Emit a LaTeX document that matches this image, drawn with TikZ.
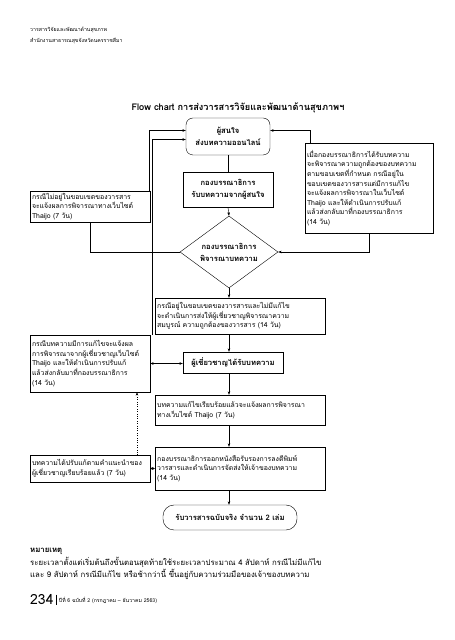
\documentclass[tikz,border=0pt]{standalone}
\usepackage{fontspec}
\newfontfamily\thaifont[Script=Thai]{Loma}
\usetikzlibrary{shapes.geometric, positioning, arrows.meta}

\tikzset{
  txtbox/.style={draw, thin, align=left, inner sep=2pt, text width=#1,
    font=\thaifont\fontsize{6.9}{9.6}\selectfont},
  headbox/.style={draw, thin, align=center, inner sep=2pt,
    font=\thaifont\bfseries\fontsize{7.6}{12}\selectfont},
  flow/.style={thin, -{Stealth[length=3.5pt, width=2.6pt]}},
  twoway/.style={thin, {Stealth[length=3.5pt, width=2.6pt]}-{Stealth[length=3.5pt, width=2.6pt]}},
  plain/.style={anchor=west, inner sep=0pt, font=\thaifont\fontsize{5.2}{8}\selectfont},
}

\begin{document}
\begin{tikzpicture}[x=1pt, y=1pt]
\useasboundingbox (0,0) rectangle (455,640);
\fill[white] (0,0) rectangle (455,640);

% header
\node[plain] (head1) at (30,610) {วารสารวิจัยและพัฒนาด้านสุขภาพ};
\node[plain] (head2) at (30,599) {สำนักงานสาธารณสุขจังหวัดนครราชสีมา};
\node[font=\thaifont\bfseries\fontsize{9.2}{11}\selectfont] (title) at (238,532) {Flow chart การส่งวารสารวิจัยและพัฒนาด้านสุขภาพฯ};

% centre column
\node[headbox, rounded corners=7pt, minimum width=84pt, minimum height=37pt] (author) at (228,503.5) {ผู้สนใจ\\ส่งบทความออนไลน์};
\node[headbox, minimum width=90pt, minimum height=35pt] (receive) at (228,450.5) {กองบรรณาธิการ\\รับบทความจากผู้สนใจ};
\node[headbox, diamond, aspect=1.36, minimum width=98pt, minimum height=72pt, inner sep=0pt] (review) at (229,388) {กองบรรณาธิการ\\พิจารณาบทความ};
\node[txtbox=166pt, anchor=west, minimum height=36pt] (inscope) at (155,324) {กรณีอยู่ในขอบเขตของวารสารและไม่มีแก้ไข\\จะดำเนินการส่งให้ผู้เชี่ยวชาญพิจารณาความ\\สมบูรณ์ ความถูกต้องของวารสาร (14 วัน)};
\node[headbox, minimum width=100pt, minimum height=21pt] (expert) at (233,277.5) {ผู้เชี่ยวชาญได้รับบทความ};
\node[txtbox=166pt, anchor=west, minimum height=30pt] (revised) at (155,230) {บทความแก้ไขเรียบร้อยแล้วจะแจ้งผลการพิจารณา\\ทางเว็บไซต์ Thaijo (7 วัน)};
\node[txtbox=166pt, anchor=west, minimum height=43pt] (certify) at (155,171.5) {กองบรรณาธิการออกหนังสือรับรองการลงตีพิมพ์\\วารสารและดำเนินการจัดส่งให้เจ้าของบทความ\\(14 วัน)};
\node[headbox, rounded corners=11pt, minimum width=134pt, minimum height=25pt] (copies) at (230,122.5) {รับวารสารฉบับจริง จำนวน 2 เล่ม};

% side boxes
\node[txtbox=116pt, minimum height=29pt] (outscope) at (90,433.5) {กรณีไม่อยู่ในขอบเขตของวารสาร\\จะแจ้งผลการพิจารณาทางเว็บไซต์\\Thaijo (7 วัน)};
\node[txtbox=124pt, minimum height=90pt] (editfix) at (369,452) {เมื่อกองบรรณาธิการได้รับบทความ\\จะพิจารณาความถูกต้องของบทความ\\ตามขอบเขตที่กำหนด กรณีอยู่ใน\\ขอบเขตของวารสารแต่มีการแก้ไข\\จะแจ้งผลการพิจารณาในเว็บไซต์\\Thaijo และให้ดำเนินการปรับแก้\\แล้วส่งกลับมาที่กองบรรณาธิการ\\(14 วัน)};
\node[txtbox=116pt, minimum height=57pt] (expertfix) at (90,276.5) {กรณีบทความมีการแก้ไขจะแจ้งผล\\การพิจารณาจากผู้เชี่ยวชาญเว็บไซต์\\Thaijo และให้ดำเนินการปรับแก้\\แล้วส่งกลับมาที่กองบรรณาธิการ\\(14 วัน)};
\node[txtbox=116pt, minimum height=27pt] (fixdone) at (90,171.5) {บทความได้ปรับแก้ตามคำแนะนำของ\\ผู้เชี่ยวชาญเรียบร้อยแล้ว (7 วัน)};

% connectors
\draw[thin] (author) -- (author |- receive.north);
\draw[flow] (author |- receive.south) -- (review.north);
\draw[flow] (review.south) -- (review.south |- inscope.north);
\draw[flow] (review.south |- inscope.south) -- (review.south |- expert.north);
\draw[flow] (review.south |- expert.south) -- (review.south |- revised.north);
\draw[flow] (review.south |- revised.south) -- (review.south |- certify.north);
\draw[flow] (review.south |- certify.south) -- (review.south |- copies.north);
\draw[thin] (review.west) -| (outscope.south);
\draw[flow] (editfix.south) |- (review.east);
\draw[flow] ([xshift=-1pt]outscope.north east) |- ([yshift=6pt]author.west);
\draw[flow] ([xshift=5pt]editfix.north west) |- ([yshift=6pt]author.east);
\draw[flow] ([xshift=2pt]expertfix.north east) |- ([yshift=-3pt]author.west);
\draw[twoway] (expertfix.east) -- (expertfix.east -| expert.west);
\draw[twoway] (fixdone.east) -- (certify.west);
\draw[flow, dotted] ([xshift=47pt]fixdone.north) -- ([xshift=47pt]fixdone.north |- expertfix.south);

% note
\node[plain, font=\thaifont\bfseries\fontsize{7.8}{9}\selectfont] (remark) at (30,89) {หมายเหตุ};
\node[plain, font=\thaifont\fontsize{7.8}{9}\selectfont] (remark1) at (30,78) {ระยะเวลาตั้งแต่เริ่มต้นถึงขั้นตอนสุดท้ายใช้ระยะเวลาประมาณ 4 สัปดาห์ กรณีไม่มีแก้ไข};
\node[plain, font=\thaifont\fontsize{7.8}{9}\selectfont] (remark2) at (30,66) {และ 9 สัปดาห์ กรณีมีแก้ไข หรือช้ากว่านี้ ขึ้นอยู่กับความร่วมมือของเจ้าของบทความ};

% footer
\node[plain, font=\thaifont\fontsize{14}{15}\selectfont] (page) at (30,40) {234};
\draw[thin] ([xshift=2pt]page.north east) -- ([xshift=2pt]page.south east);
\node[plain, right=5pt of page.east] (issue) {ปีที่ 6 ฉบับที่ 2 (กรกฎาคม – ธันวาคม 2563)};
\end{tikzpicture}
\end{document}
